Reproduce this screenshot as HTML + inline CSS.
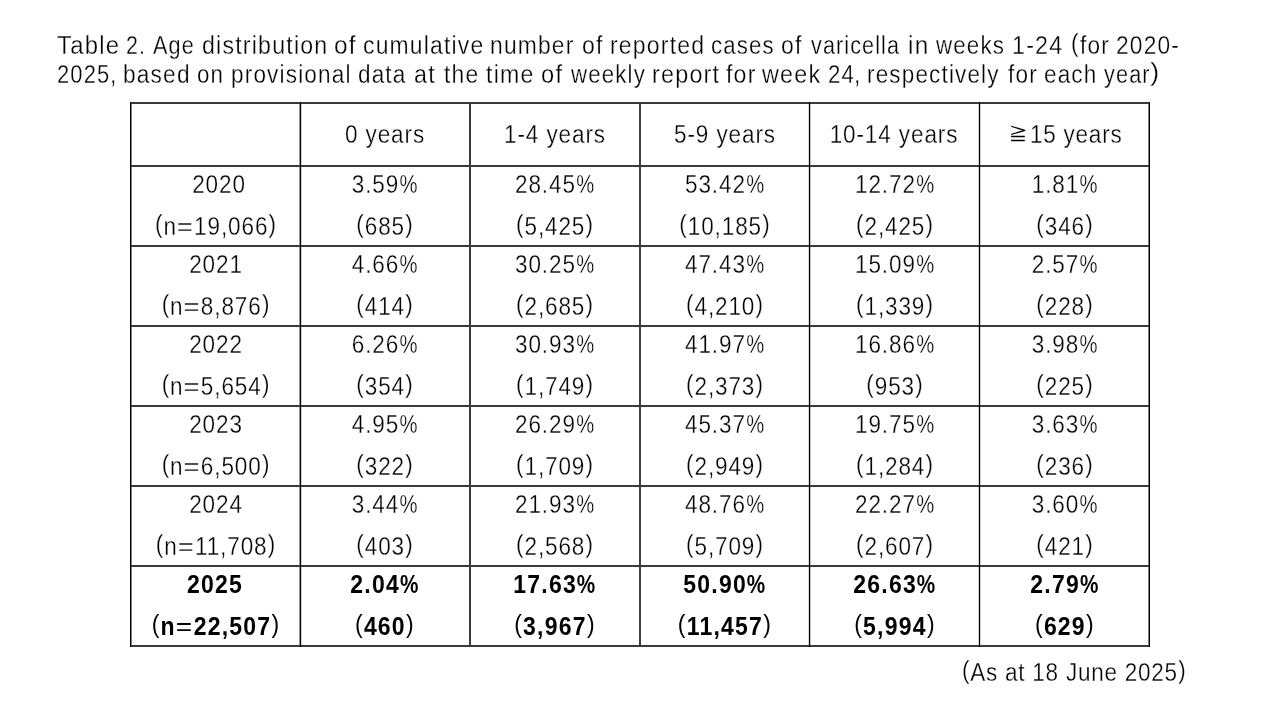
<!DOCTYPE html>
<html><head><meta charset="utf-8"><style>
html,body{margin:0;padding:0;background:#fff;width:1280px;height:720px;overflow:hidden;position:relative}
.t,.tt,.tr{position:absolute;white-space:nowrap;font-family:"Liberation Sans",sans-serif;color:#000}
.t{transform-origin:50% 0}
.tt{transform-origin:0 0}
.tr{transform-origin:100% 0}
.pl,.pr{position:relative;top:-2.3px;font-weight:normal}
.pl{margin:0}
.pr{margin:0 0 0 0.3px}
.eq{display:inline-block;font-weight:normal;transform:scaleX(1.22);margin:0 1.8px}
.pc{display:inline-block;transform:scaleX(0.9);transform-origin:0 0;margin-right:-2px}
.l{position:absolute;background:#1a1a1a}
#w{position:absolute;left:0;top:0;width:1280px;height:720px;will-change:transform}
.t,.tt,.tr{-webkit-text-stroke:0.3px #fff}
</style></head><body>
<div id="w">
<div class="l" style="left:131px;top:102px;width:1px;height:545px;background:#808080"></div>
<div class="l" style="left:299px;top:102px;width:1px;height:545px;background:#9a9a9a"></div>
<div class="l" style="left:301px;top:102px;width:1px;height:545px;background:#d0d0d0"></div>
<div class="l" style="left:469px;top:102px;width:2px;height:545px;background:#3c3c3c"></div>
<div class="l" style="left:639px;top:102px;width:2px;height:545px;background:#3c3c3c"></div>
<div class="l" style="left:808px;top:102px;width:1px;height:545px;background:#d8d8d8"></div>
<div class="l" style="left:810px;top:102px;width:1px;height:545px;background:#c0c0c0"></div>
<div class="l" style="left:978px;top:102px;width:1px;height:545px;background:#d0d0d0"></div>
<div class="l" style="left:980px;top:102px;width:1px;height:545px;background:#d0d0d0"></div>
<div class="l" style="left:1148px;top:102px;width:1px;height:545px;background:#808080"></div>
<div class="l" style="left:130px;top:102px;width:1020px;height:2px;background:#3a3a3a"></div>
<div class="l" style="left:130px;top:165px;width:1020px;height:2px;background:#3a3a3a"></div>
<div class="l" style="left:130px;top:245px;width:1020px;height:2px;background:#3a3a3a"></div>
<div class="l" style="left:130px;top:325px;width:1020px;height:2px;background:#3a3a3a"></div>
<div class="l" style="left:130px;top:405px;width:1020px;height:2px;background:#3a3a3a"></div>
<div class="l" style="left:130px;top:485px;width:1020px;height:2px;background:#3a3a3a"></div>
<div class="l" style="left:130px;top:565px;width:1020px;height:2px;background:#3a3a3a"></div>
<div class="l" style="left:130px;top:645px;width:1020px;height:2px;background:#3a3a3a"></div>
<div class="l" style="left:130px;top:102px;width:1px;height:545px;background:#000"></div>
<div class="l" style="left:300px;top:102px;width:1px;height:545px;background:#000"></div>
<div class="l" style="left:809px;top:102px;width:1px;height:545px;background:#000"></div>
<div class="l" style="left:979px;top:102px;width:1px;height:545px;background:#000"></div>
<div class="l" style="left:1149px;top:102px;width:1px;height:545px;background:#000"></div>
<div class="t" style="left:385.00px;top:121.84px;font-size:25.0px;line-height:25.0px;letter-spacing:1.0px;transform:translateX(-50%) scaleX(0.9)">0 years</div>
<div class="t" style="left:555.00px;top:121.84px;font-size:25.0px;line-height:25.0px;letter-spacing:1.0px;transform:translateX(-50%) scaleX(0.9)">1-4 years</div>
<div class="t" style="left:725.00px;top:121.84px;font-size:25.0px;line-height:25.0px;letter-spacing:1.0px;transform:translateX(-50%) scaleX(0.9)">5-9 years</div>
<div class="t" style="left:894.30px;top:121.84px;font-size:25.0px;line-height:25.0px;letter-spacing:1.0px;transform:translateX(-50%) scaleX(0.9)">10-14 years</div>
<div class="tt" style="left:1030.4px;top:121.84px;font-size:25.0px;line-height:25.0px;letter-spacing:0.85px;transform:scaleX(0.9)">15 years</div>
<svg style="position:absolute;left:1005px;top:120px" width="30" height="25" viewBox="1005 120 30 25"><path d="M1011.1 126.25 L1024.8 130.4 L1011.1 134.5 M1011.1 136.5 H1024.8 M1011.1 140.5 H1024.8" fill="none" stroke="#000" stroke-width="1.3" stroke-linejoin="round"/></svg>
<div class="t" style="left:218.50px;top:171.84px;font-size:25.0px;line-height:25.0px;letter-spacing:1.0px;transform:translateX(-50%) scaleX(0.9)">2020</div>
<div class="t" style="left:215.70px;top:213.84px;font-size:25.0px;line-height:25.0px;letter-spacing:1.0px;transform:translateX(-50%) scaleX(0.9)"><span class="pl">(</span>n<span class="eq">=</span>19,066<span class="pr">)</span></div>
<div class="t" style="left:385.00px;top:171.84px;font-size:25.0px;line-height:25.0px;letter-spacing:1.0px;transform:translateX(-50%) scaleX(0.9)">3.59<span class="pc">%</span></div>
<div class="t" style="left:385.00px;top:213.84px;font-size:25.0px;line-height:25.0px;letter-spacing:1.0px;transform:translateX(-50%) scaleX(0.9)"><span class="pl">(</span>685<span class="pr">)</span></div>
<div class="t" style="left:555.00px;top:171.84px;font-size:25.0px;line-height:25.0px;letter-spacing:1.0px;transform:translateX(-50%) scaleX(0.9)">28.45<span class="pc">%</span></div>
<div class="t" style="left:555.00px;top:213.84px;font-size:25.0px;line-height:25.0px;letter-spacing:1.0px;transform:translateX(-50%) scaleX(0.9)"><span class="pl">(</span>5,425<span class="pr">)</span></div>
<div class="t" style="left:725.00px;top:171.84px;font-size:25.0px;line-height:25.0px;letter-spacing:1.0px;transform:translateX(-50%) scaleX(0.9)">53.42<span class="pc">%</span></div>
<div class="t" style="left:725.00px;top:213.84px;font-size:25.0px;line-height:25.0px;letter-spacing:1.0px;transform:translateX(-50%) scaleX(0.9)"><span class="pl">(</span>10,185<span class="pr">)</span></div>
<div class="t" style="left:895.00px;top:171.84px;font-size:25.0px;line-height:25.0px;letter-spacing:1.0px;transform:translateX(-50%) scaleX(0.9)">12.72<span class="pc">%</span></div>
<div class="t" style="left:895.00px;top:213.84px;font-size:25.0px;line-height:25.0px;letter-spacing:1.0px;transform:translateX(-50%) scaleX(0.9)"><span class="pl">(</span>2,425<span class="pr">)</span></div>
<div class="t" style="left:1065.00px;top:171.84px;font-size:25.0px;line-height:25.0px;letter-spacing:1.0px;transform:translateX(-50%) scaleX(0.9)">1.81<span class="pc">%</span></div>
<div class="t" style="left:1065.00px;top:213.84px;font-size:25.0px;line-height:25.0px;letter-spacing:1.0px;transform:translateX(-50%) scaleX(0.9)"><span class="pl">(</span>346<span class="pr">)</span></div>
<div class="t" style="left:216.00px;top:251.84px;font-size:25.0px;line-height:25.0px;letter-spacing:1.0px;transform:translateX(-50%) scaleX(0.9)">2021</div>
<div class="t" style="left:215.70px;top:293.84px;font-size:25.0px;line-height:25.0px;letter-spacing:1.0px;transform:translateX(-50%) scaleX(0.9)"><span class="pl">(</span>n<span class="eq">=</span>8,876<span class="pr">)</span></div>
<div class="t" style="left:385.00px;top:251.84px;font-size:25.0px;line-height:25.0px;letter-spacing:1.0px;transform:translateX(-50%) scaleX(0.9)">4.66<span class="pc">%</span></div>
<div class="t" style="left:385.00px;top:293.84px;font-size:25.0px;line-height:25.0px;letter-spacing:1.0px;transform:translateX(-50%) scaleX(0.9)"><span class="pl">(</span>414<span class="pr">)</span></div>
<div class="t" style="left:555.00px;top:251.84px;font-size:25.0px;line-height:25.0px;letter-spacing:1.0px;transform:translateX(-50%) scaleX(0.9)">30.25<span class="pc">%</span></div>
<div class="t" style="left:555.00px;top:293.84px;font-size:25.0px;line-height:25.0px;letter-spacing:1.0px;transform:translateX(-50%) scaleX(0.9)"><span class="pl">(</span>2,685<span class="pr">)</span></div>
<div class="t" style="left:725.00px;top:251.84px;font-size:25.0px;line-height:25.0px;letter-spacing:1.0px;transform:translateX(-50%) scaleX(0.9)">47.43<span class="pc">%</span></div>
<div class="t" style="left:725.00px;top:293.84px;font-size:25.0px;line-height:25.0px;letter-spacing:1.0px;transform:translateX(-50%) scaleX(0.9)"><span class="pl">(</span>4,210<span class="pr">)</span></div>
<div class="t" style="left:895.00px;top:251.84px;font-size:25.0px;line-height:25.0px;letter-spacing:1.0px;transform:translateX(-50%) scaleX(0.9)">15.09<span class="pc">%</span></div>
<div class="t" style="left:895.00px;top:293.84px;font-size:25.0px;line-height:25.0px;letter-spacing:1.0px;transform:translateX(-50%) scaleX(0.9)"><span class="pl">(</span>1,339<span class="pr">)</span></div>
<div class="t" style="left:1065.00px;top:251.84px;font-size:25.0px;line-height:25.0px;letter-spacing:1.0px;transform:translateX(-50%) scaleX(0.9)">2.57<span class="pc">%</span></div>
<div class="t" style="left:1065.00px;top:293.84px;font-size:25.0px;line-height:25.0px;letter-spacing:1.0px;transform:translateX(-50%) scaleX(0.9)"><span class="pl">(</span>228<span class="pr">)</span></div>
<div class="t" style="left:216.00px;top:331.84px;font-size:25.0px;line-height:25.0px;letter-spacing:1.0px;transform:translateX(-50%) scaleX(0.9)">2022</div>
<div class="t" style="left:215.70px;top:373.84px;font-size:25.0px;line-height:25.0px;letter-spacing:1.0px;transform:translateX(-50%) scaleX(0.9)"><span class="pl">(</span>n<span class="eq">=</span>5,654<span class="pr">)</span></div>
<div class="t" style="left:385.00px;top:331.84px;font-size:25.0px;line-height:25.0px;letter-spacing:1.0px;transform:translateX(-50%) scaleX(0.9)">6.26<span class="pc">%</span></div>
<div class="t" style="left:385.00px;top:373.84px;font-size:25.0px;line-height:25.0px;letter-spacing:1.0px;transform:translateX(-50%) scaleX(0.9)"><span class="pl">(</span>354<span class="pr">)</span></div>
<div class="t" style="left:555.00px;top:331.84px;font-size:25.0px;line-height:25.0px;letter-spacing:1.0px;transform:translateX(-50%) scaleX(0.9)">30.93<span class="pc">%</span></div>
<div class="t" style="left:555.00px;top:373.84px;font-size:25.0px;line-height:25.0px;letter-spacing:1.0px;transform:translateX(-50%) scaleX(0.9)"><span class="pl">(</span>1,749<span class="pr">)</span></div>
<div class="t" style="left:725.00px;top:331.84px;font-size:25.0px;line-height:25.0px;letter-spacing:1.0px;transform:translateX(-50%) scaleX(0.9)">41.97<span class="pc">%</span></div>
<div class="t" style="left:725.00px;top:373.84px;font-size:25.0px;line-height:25.0px;letter-spacing:1.0px;transform:translateX(-50%) scaleX(0.9)"><span class="pl">(</span>2,373<span class="pr">)</span></div>
<div class="t" style="left:895.00px;top:331.84px;font-size:25.0px;line-height:25.0px;letter-spacing:1.0px;transform:translateX(-50%) scaleX(0.9)">16.86<span class="pc">%</span></div>
<div class="t" style="left:895.00px;top:373.84px;font-size:25.0px;line-height:25.0px;letter-spacing:1.0px;transform:translateX(-50%) scaleX(0.9)"><span class="pl">(</span>953<span class="pr">)</span></div>
<div class="t" style="left:1065.00px;top:331.84px;font-size:25.0px;line-height:25.0px;letter-spacing:1.0px;transform:translateX(-50%) scaleX(0.9)">3.98<span class="pc">%</span></div>
<div class="t" style="left:1065.00px;top:373.84px;font-size:25.0px;line-height:25.0px;letter-spacing:1.0px;transform:translateX(-50%) scaleX(0.9)"><span class="pl">(</span>225<span class="pr">)</span></div>
<div class="t" style="left:216.00px;top:411.84px;font-size:25.0px;line-height:25.0px;letter-spacing:1.0px;transform:translateX(-50%) scaleX(0.9)">2023</div>
<div class="t" style="left:215.70px;top:453.84px;font-size:25.0px;line-height:25.0px;letter-spacing:1.0px;transform:translateX(-50%) scaleX(0.9)"><span class="pl">(</span>n<span class="eq">=</span>6,500<span class="pr">)</span></div>
<div class="t" style="left:385.00px;top:411.84px;font-size:25.0px;line-height:25.0px;letter-spacing:1.0px;transform:translateX(-50%) scaleX(0.9)">4.95<span class="pc">%</span></div>
<div class="t" style="left:385.00px;top:453.84px;font-size:25.0px;line-height:25.0px;letter-spacing:1.0px;transform:translateX(-50%) scaleX(0.9)"><span class="pl">(</span>322<span class="pr">)</span></div>
<div class="t" style="left:555.00px;top:411.84px;font-size:25.0px;line-height:25.0px;letter-spacing:1.0px;transform:translateX(-50%) scaleX(0.9)">26.29<span class="pc">%</span></div>
<div class="t" style="left:555.00px;top:453.84px;font-size:25.0px;line-height:25.0px;letter-spacing:1.0px;transform:translateX(-50%) scaleX(0.9)"><span class="pl">(</span>1,709<span class="pr">)</span></div>
<div class="t" style="left:725.00px;top:411.84px;font-size:25.0px;line-height:25.0px;letter-spacing:1.0px;transform:translateX(-50%) scaleX(0.9)">45.37<span class="pc">%</span></div>
<div class="t" style="left:725.00px;top:453.84px;font-size:25.0px;line-height:25.0px;letter-spacing:1.0px;transform:translateX(-50%) scaleX(0.9)"><span class="pl">(</span>2,949<span class="pr">)</span></div>
<div class="t" style="left:895.00px;top:411.84px;font-size:25.0px;line-height:25.0px;letter-spacing:1.0px;transform:translateX(-50%) scaleX(0.9)">19.75<span class="pc">%</span></div>
<div class="t" style="left:895.00px;top:453.84px;font-size:25.0px;line-height:25.0px;letter-spacing:1.0px;transform:translateX(-50%) scaleX(0.9)"><span class="pl">(</span>1,284<span class="pr">)</span></div>
<div class="t" style="left:1065.00px;top:411.84px;font-size:25.0px;line-height:25.0px;letter-spacing:1.0px;transform:translateX(-50%) scaleX(0.9)">3.63<span class="pc">%</span></div>
<div class="t" style="left:1065.00px;top:453.84px;font-size:25.0px;line-height:25.0px;letter-spacing:1.0px;transform:translateX(-50%) scaleX(0.9)"><span class="pl">(</span>236<span class="pr">)</span></div>
<div class="t" style="left:216.00px;top:491.84px;font-size:25.0px;line-height:25.0px;letter-spacing:1.0px;transform:translateX(-50%) scaleX(0.9)">2024</div>
<div class="t" style="left:215.70px;top:533.84px;font-size:25.0px;line-height:25.0px;letter-spacing:1.0px;transform:translateX(-50%) scaleX(0.9)"><span class="pl">(</span>n<span class="eq">=</span>11,708<span class="pr">)</span></div>
<div class="t" style="left:385.00px;top:491.84px;font-size:25.0px;line-height:25.0px;letter-spacing:1.0px;transform:translateX(-50%) scaleX(0.9)">3.44<span class="pc">%</span></div>
<div class="t" style="left:385.00px;top:533.84px;font-size:25.0px;line-height:25.0px;letter-spacing:1.0px;transform:translateX(-50%) scaleX(0.9)"><span class="pl">(</span>403<span class="pr">)</span></div>
<div class="t" style="left:555.00px;top:491.84px;font-size:25.0px;line-height:25.0px;letter-spacing:1.0px;transform:translateX(-50%) scaleX(0.9)">21.93<span class="pc">%</span></div>
<div class="t" style="left:555.00px;top:533.84px;font-size:25.0px;line-height:25.0px;letter-spacing:1.0px;transform:translateX(-50%) scaleX(0.9)"><span class="pl">(</span>2,568<span class="pr">)</span></div>
<div class="t" style="left:725.00px;top:491.84px;font-size:25.0px;line-height:25.0px;letter-spacing:1.0px;transform:translateX(-50%) scaleX(0.9)">48.76<span class="pc">%</span></div>
<div class="t" style="left:725.00px;top:533.84px;font-size:25.0px;line-height:25.0px;letter-spacing:1.0px;transform:translateX(-50%) scaleX(0.9)"><span class="pl">(</span>5,709<span class="pr">)</span></div>
<div class="t" style="left:895.00px;top:491.84px;font-size:25.0px;line-height:25.0px;letter-spacing:1.0px;transform:translateX(-50%) scaleX(0.9)">22.27<span class="pc">%</span></div>
<div class="t" style="left:895.00px;top:533.84px;font-size:25.0px;line-height:25.0px;letter-spacing:1.0px;transform:translateX(-50%) scaleX(0.9)"><span class="pl">(</span>2,607<span class="pr">)</span></div>
<div class="t" style="left:1065.00px;top:491.84px;font-size:25.0px;line-height:25.0px;letter-spacing:1.0px;transform:translateX(-50%) scaleX(0.9)">3.60<span class="pc">%</span></div>
<div class="t" style="left:1065.00px;top:533.84px;font-size:25.0px;line-height:25.0px;letter-spacing:1.0px;transform:translateX(-50%) scaleX(0.9)"><span class="pl">(</span>421<span class="pr">)</span></div>
<div class="t" style="left:215.00px;top:571.84px;font-size:25.0px;line-height:25.0px;letter-spacing:1.3px;font-weight:bold;-webkit-text-stroke:0;transform:translateX(-50%) scaleX(0.92)">2025</div>
<div class="t" style="left:215.70px;top:613.84px;font-size:25.0px;line-height:25.0px;letter-spacing:1.3px;font-weight:bold;-webkit-text-stroke:0;transform:translateX(-50%) scaleX(0.92)"><span class="pl">(</span>n<span class="eq">=</span>22,507<span class="pr">)</span></div>
<div class="t" style="left:385.00px;top:571.84px;font-size:25.0px;line-height:25.0px;letter-spacing:1.3px;font-weight:bold;-webkit-text-stroke:0;transform:translateX(-50%) scaleX(0.92)">2.04<span class="pc">%</span></div>
<div class="t" style="left:385.00px;top:613.84px;font-size:25.0px;line-height:25.0px;letter-spacing:1.3px;font-weight:bold;-webkit-text-stroke:0;transform:translateX(-50%) scaleX(0.92)"><span class="pl">(</span>460<span class="pr">)</span></div>
<div class="t" style="left:555.00px;top:571.84px;font-size:25.0px;line-height:25.0px;letter-spacing:1.3px;font-weight:bold;-webkit-text-stroke:0;transform:translateX(-50%) scaleX(0.92)">17.63<span class="pc">%</span></div>
<div class="t" style="left:555.00px;top:613.84px;font-size:25.0px;line-height:25.0px;letter-spacing:1.3px;font-weight:bold;-webkit-text-stroke:0;transform:translateX(-50%) scaleX(0.92)"><span class="pl">(</span>3,967<span class="pr">)</span></div>
<div class="t" style="left:725.00px;top:571.84px;font-size:25.0px;line-height:25.0px;letter-spacing:1.3px;font-weight:bold;-webkit-text-stroke:0;transform:translateX(-50%) scaleX(0.92)">50.90<span class="pc">%</span></div>
<div class="t" style="left:725.00px;top:613.84px;font-size:25.0px;line-height:25.0px;letter-spacing:1.3px;font-weight:bold;-webkit-text-stroke:0;transform:translateX(-50%) scaleX(0.92)"><span class="pl">(</span>11,457<span class="pr">)</span></div>
<div class="t" style="left:895.00px;top:571.84px;font-size:25.0px;line-height:25.0px;letter-spacing:1.3px;font-weight:bold;-webkit-text-stroke:0;transform:translateX(-50%) scaleX(0.92)">26.63<span class="pc">%</span></div>
<div class="t" style="left:895.00px;top:613.84px;font-size:25.0px;line-height:25.0px;letter-spacing:1.3px;font-weight:bold;-webkit-text-stroke:0;transform:translateX(-50%) scaleX(0.92)"><span class="pl">(</span>5,994<span class="pr">)</span></div>
<div class="t" style="left:1065.00px;top:571.84px;font-size:25.0px;line-height:25.0px;letter-spacing:1.3px;font-weight:bold;-webkit-text-stroke:0;transform:translateX(-50%) scaleX(0.92)">2.79<span class="pc">%</span></div>
<div class="t" style="left:1065.00px;top:613.84px;font-size:25.0px;line-height:25.0px;letter-spacing:1.3px;font-weight:bold;-webkit-text-stroke:0;transform:translateX(-50%) scaleX(0.92)"><span class="pl">(</span>629<span class="pr">)</span></div>
<div class="tt" style="left:57.04px;top:32.84px;font-size:25.0px;line-height:25.0px;letter-spacing:1.296px;transform:scaleX(0.9546)">Table</div>
<div class="tt" style="left:125.95px;top:32.84px;font-size:25.0px;line-height:25.0px;letter-spacing:1.296px;transform:scaleX(0.8576)">2.</div>
<div class="tt" style="left:153.10px;top:32.84px;font-size:25.0px;line-height:25.0px;letter-spacing:1.296px;transform:scaleX(0.8649)">Age</div>
<div class="tt" style="left:201.57px;top:32.84px;font-size:25.0px;line-height:25.0px;letter-spacing:1.296px;transform:scaleX(0.9265)">distribution</div>
<div class="tt" style="left:333.92px;top:32.84px;font-size:25.0px;line-height:25.0px;letter-spacing:1.296px;transform:scaleX(0.9758)">of</div>
<div class="tt" style="left:362.73px;top:32.84px;font-size:25.0px;line-height:25.0px;letter-spacing:1.296px;transform:scaleX(0.9167)">cumulative</div>
<div class="tt" style="left:489.87px;top:32.84px;font-size:25.0px;line-height:25.0px;letter-spacing:1.296px;transform:scaleX(0.9135)">number</div>
<div class="tt" style="left:582.08px;top:32.84px;font-size:25.0px;line-height:25.0px;letter-spacing:1.296px;transform:scaleX(0.9189)">of</div>
<div class="tt" style="left:609.85px;top:32.84px;font-size:25.0px;line-height:25.0px;letter-spacing:1.296px;transform:scaleX(0.9205)">reported</div>
<div class="tt" style="left:710.91px;top:32.84px;font-size:25.0px;line-height:25.0px;letter-spacing:1.296px;transform:scaleX(0.8884)">cases</div>
<div class="tt" style="left:781.48px;top:32.84px;font-size:25.0px;line-height:25.0px;letter-spacing:1.296px;transform:scaleX(0.9189)">of</div>
<div class="tt" style="left:811.25px;top:32.84px;font-size:25.0px;line-height:25.0px;letter-spacing:1.296px;transform:scaleX(0.8623)">varicella</div>
<div class="tt" style="left:907.83px;top:32.84px;font-size:25.0px;line-height:25.0px;letter-spacing:1.296px;transform:scaleX(0.9750)">in</div>
<div class="tt" style="left:936.25px;top:32.84px;font-size:25.0px;line-height:25.0px;letter-spacing:1.296px;transform:scaleX(0.8934)">weeks</div>
<div class="tt" style="left:1012.33px;top:32.84px;font-size:25.0px;line-height:25.0px;letter-spacing:1.296px;transform:scaleX(0.9293)">1-24</div>
<div class="tt" style="left:1070.90px;top:32.84px;font-size:25.0px;line-height:25.0px;letter-spacing:1.296px;transform:scaleX(0.9000)"><span class="pl">(</span></div>
<div class="tt" style="left:1080.00px;top:32.84px;font-size:25.0px;line-height:25.0px;letter-spacing:1.296px;transform:scaleX(0.9032)">for</div>
<div class="tt" style="left:1116.49px;top:32.84px;font-size:25.0px;line-height:25.0px;letter-spacing:1.296px;transform:scaleX(0.9090)">2020-</div>
<div class="tt" style="left:57.13px;top:61.84px;font-size:25.0px;line-height:25.0px;letter-spacing:1.296px;transform:scaleX(0.8766)">2025</div>
<div class="tt" style="left:109.90px;top:61.84px;font-size:25.0px;line-height:25.0px;letter-spacing:1.296px;transform:scaleX(0.9000)">,</div>
<div class="tt" style="left:122.98px;top:61.84px;font-size:25.0px;line-height:25.0px;letter-spacing:1.296px;transform:scaleX(0.9073)">based</div>
<div class="tt" style="left:197.11px;top:61.84px;font-size:25.0px;line-height:25.0px;letter-spacing:1.296px;transform:scaleX(0.8925)">on</div>
<div class="tt" style="left:230.50px;top:61.84px;font-size:25.0px;line-height:25.0px;letter-spacing:1.296px;transform:scaleX(0.9019)">provisional</div>
<div class="tt" style="left:358.00px;top:61.84px;font-size:25.0px;line-height:25.0px;letter-spacing:1.296px;transform:scaleX(0.9000)">data</div>
<div class="tt" style="left:413.72px;top:61.84px;font-size:25.0px;line-height:25.0px;letter-spacing:1.296px;transform:scaleX(0.9308)">at</div>
<div class="tt" style="left:443.75px;top:61.84px;font-size:25.0px;line-height:25.0px;letter-spacing:1.296px;transform:scaleX(0.9141)">the</div>
<div class="tt" style="left:485.60px;top:61.84px;font-size:25.0px;line-height:25.0px;letter-spacing:1.296px;transform:scaleX(0.9260)">time</div>
<div class="tt" style="left:540.85px;top:61.84px;font-size:25.0px;line-height:25.0px;letter-spacing:1.296px;transform:scaleX(0.9474)">of</div>
<div class="tt" style="left:570.60px;top:61.84px;font-size:25.0px;line-height:25.0px;letter-spacing:1.296px;transform:scaleX(0.8897)">weekly</div>
<div class="tt" style="left:651.67px;top:61.84px;font-size:25.0px;line-height:25.0px;letter-spacing:1.296px;transform:scaleX(0.9341)">report</div>
<div class="tt" style="left:726.25px;top:61.84px;font-size:25.0px;line-height:25.0px;letter-spacing:1.296px;transform:scaleX(0.9241)">for</div>
<div class="tt" style="left:761.90px;top:61.84px;font-size:25.0px;line-height:25.0px;letter-spacing:1.296px;transform:scaleX(0.9338)">week</div>
<div class="tt" style="left:827.76px;top:61.84px;font-size:25.0px;line-height:25.0px;letter-spacing:1.296px;transform:scaleX(0.8906)">24</div>
<div class="tt" style="left:853.60px;top:61.84px;font-size:25.0px;line-height:25.0px;letter-spacing:1.296px;transform:scaleX(0.9000)">,</div>
<div class="tt" style="left:867.40px;top:61.84px;font-size:25.0px;line-height:25.0px;letter-spacing:1.296px;transform:scaleX(0.8993)">respectively</div>
<div class="tt" style="left:1007.60px;top:61.84px;font-size:25.0px;line-height:25.0px;letter-spacing:1.296px;transform:scaleX(0.9032)">for</div>
<div class="tt" style="left:1043.80px;top:61.84px;font-size:25.0px;line-height:25.0px;letter-spacing:1.296px;transform:scaleX(0.9000)">each</div>
<div class="tt" style="left:1104.10px;top:61.84px;font-size:25.0px;line-height:25.0px;letter-spacing:1.296px;transform:scaleX(0.8674)">year</div>
<div class="tt" style="left:1150.06px;top:61.84px;font-size:25.0px;line-height:25.0px;letter-spacing:1.296px;transform:scaleX(1.0710)"><span class="pr">)</span></div>
<div class="tr" style="right:93.5px;top:659.84px;font-size:25.0px;line-height:25.0px;letter-spacing:0.85px;transform:scaleX(0.9)"><span class="pl">(</span>As at 18 June 2025<span class="pr">)</span></div>
</div>
</body></html>
